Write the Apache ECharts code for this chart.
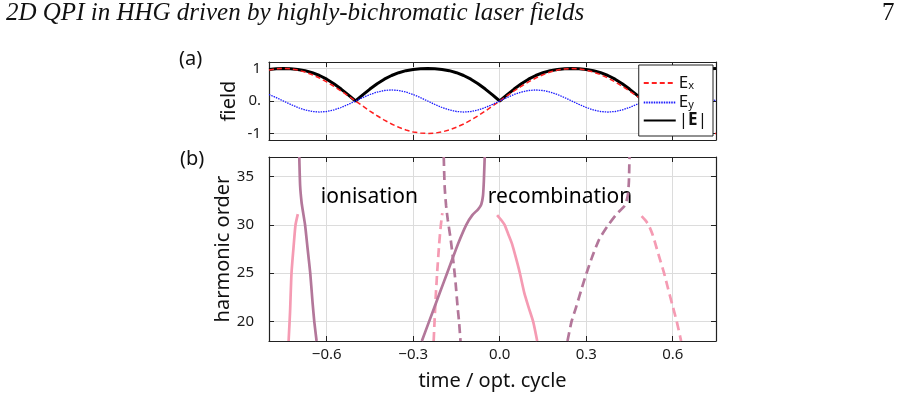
<!DOCTYPE html>
<html lang="en">

<head>
  <meta charset="UTF-8">
  <title>2D QPI in HHG</title>
  <script src="https://cdn.jsdelivr.net/npm/echarts@6.0.0/dist/echarts.min.js"></script>
</head>

<body style="margin:0">
  <div id="main" style="width: 900px;height:396px;"></div>

  <script type="text/javascript">
    // time axis for panel (a), optical cycles
    const fieldTime = [-0.8, -0.775, -0.75, -0.725, -0.7, -0.675, -0.65, -0.625, -0.6, -0.575, -0.55, -0.525,
      -0.5, -0.475, -0.45, -0.425, -0.4, -0.375, -0.35, -0.325, -0.3, -0.275, -0.25, -0.225,
      -0.2, -0.175, -0.15, -0.125, -0.1, -0.075, -0.05, -0.025, 0, 0.025, 0.05, 0.075,
      0.1, 0.125, 0.15, 0.175, 0.2, 0.225, 0.25, 0.275, 0.3, 0.325, 0.35, 0.375,
      0.4, 0.425, 0.45, 0.475, 0.5, 0.525, 0.55, 0.575, 0.6, 0.625, 0.65, 0.675,
      0.7, 0.725, 0.75];
    const fieldEx = [0.951, 0.988, 1, 0.988, 0.951, 0.891, 0.809, 0.707, 0.588, 0.454, 0.309, 0.156,
      0, -0.156, -0.309, -0.454, -0.588, -0.707, -0.809, -0.891, -0.951, -0.988, -1, -0.988,
      -0.951, -0.891, -0.809, -0.707, -0.588, -0.454, -0.309, -0.156, 0, 0.156, 0.309, 0.454,
      0.588, 0.707, 0.809, 0.891, 0.951, 0.988, 1, 0.988, 0.951, 0.891, 0.809, 0.707,
      0.588, 0.454, 0.309, 0.156, 0, -0.156, -0.309, -0.454, -0.588, -0.707, -0.809, -0.891,
      -0.951, -0.988, -1];
    const fieldEy = [0.2, 0.105, 0, -0.105, -0.2, -0.275, -0.323, -0.34, -0.323, -0.275, -0.2, -0.105,
      0, 0.105, 0.2, 0.275, 0.323, 0.34, 0.323, 0.275, 0.2, 0.105, 0, -0.105,
      -0.2, -0.275, -0.323, -0.34, -0.323, -0.275, -0.2, -0.105, 0, 0.105, 0.2, 0.275,
      0.323, 0.34, 0.323, 0.275, 0.2, 0.105, 0, -0.105, -0.2, -0.275, -0.323, -0.34,
      -0.323, -0.275, -0.2, -0.105, 0, 0.105, 0.2, 0.275, 0.323, 0.34, 0.323, 0.275,
      0.2, 0.105, 0];
    const fieldAbs = [0.972, 0.993, 1, 0.993, 0.972, 0.933, 0.871, 0.785, 0.671, 0.531, 0.368, 0.188,
      0, 0.188, 0.368, 0.531, 0.671, 0.785, 0.871, 0.933, 0.972, 0.993, 1, 0.993,
      0.972, 0.933, 0.871, 0.785, 0.671, 0.531, 0.368, 0.188, 0, 0.188, 0.368, 0.531,
      0.671, 0.785, 0.871, 0.933, 0.972, 0.993, 1, 0.993, 0.972, 0.933, 0.871, 0.785,
      0.671, 0.531, 0.368, 0.188, 0, 0.188, 0.368, 0.531, 0.671, 0.785, 0.871, 0.933,
      0.972, 0.993, 1];

    // panel (b): ionisation / recombination times vs harmonic order
    const ionShortT = [-0.732, -0.727, -0.722, -0.714, -0.708, -0.7];
    const ionShortN = [18, 21, 25, 28, 30, 31.1];
    const ionLongT = [-0.695, -0.692, -0.687, -0.683, -0.675, -0.666, -0.657, -0.649, -0.643, -0.635];
    const ionLongN = [37, 34, 32.3, 31.5, 30, 27.5, 25, 22, 20, 18];
    const ion2ShortT = [-0.229, -0.226, -0.222, -0.217, -0.21, -0.204, -0.199];
    const ion2ShortN = [18, 20, 22.5, 25, 28, 30, 31.2];
    const ion2LongT = [-0.194, -0.191, -0.186, -0.18, -0.17, -0.16, -0.153, -0.146, -0.141, -0.136];
    const ion2LongN = [37, 34, 32, 30.5, 28.5, 26, 24, 21.5, 20, 18];
    const recLongT = [-0.27, -0.245, -0.22, -0.195, -0.17, -0.145, -0.116, -0.095, -0.075, -0.064, -0.058, -0.055, -0.052];
    const recLongN = [18, 20, 22, 24, 26, 28, 30, 31, 31.6, 32.1, 33, 34.5, 37];
    const recShortT = [-0.009, 0.005, 0.017, 0.03, 0.043, 0.057, 0.07, 0.085, 0.1, 0.116, 0.13];
    const recShortN = [31, 30.5, 30, 29, 28, 26.5, 25, 23, 21.5, 20, 18];
    const rec2LongT = [0.235, 0.249, 0.265, 0.283, 0.301, 0.322, 0.345, 0.377, 0.405, 0.434, 0.444, 0.448, 0.45];
    const rec2LongN = [18, 20, 21.5, 23.3, 25, 26.8, 28.5, 30, 31.1, 32, 33, 34.5, 37];
    const rec2ShortT = [0.492, 0.504, 0.516, 0.53, 0.545, 0.558, 0.57, 0.583, 0.598, 0.614, 0.629];
    const rec2ShortN = [30.9, 30.5, 30, 29, 27.5, 26.2, 25, 23.5, 21.8, 20, 18];

    // tick labels
    const timeTicks = [-0.6, -0.3, 0, 0.3, 0.6];
    const fieldTicks = [-1, 0, 1];
    const orderTicks = [20, 25, 30, 35];

    const zip = (xs, ys) => xs.map((x, i) => [x, ys[i]]);

    const pink = '#f59bb3';
    const mauve = '#b3779a';
    const font = 'Noto Sans';

    let myChart = echarts.init(document.getElementById('main'));

    const gridLine = { show: true, lineStyle: { color: '#dcdcdc', width: 1 } };
    const frame = { show: true, onZero: false, lineStyle: { color: '#222', width: 1.2 } };

    function xAx(grid, pos, labels) {
      return {
        type: 'value', gridIndex: grid, position: pos, min: -0.8, max: 0.75,
        axisLine: frame,
        axisTick: { show: true, inside: true, length: 5, customValues: timeTicks, lineStyle: { color: '#222' } },
        axisLabel: {
          show: labels, customValues: timeTicks, margin: 6, color: '#1a1a1a', fontFamily: font, fontSize: 15,
          formatter: v => (v < 0 ? '\u2212' : '') + Math.abs(v).toFixed(1)
        },
        splitLine: pos === 'bottom' ? gridLine : { show: false }
      };
    }

    const options = {
      animation: false,
      graphic: [
        { type: 'text', left: 6, top: 1, style: { text: '2D QPI in HHG driven by highly-bichromatic laser fields', font: 'italic 25px "Liberation Serif"', fill: '#111' } },
        { type: 'text', left: 882, top: 1, style: { text: '7', font: '25px "Liberation Serif"', fill: '#111' } },
        { type: 'text', left: 179, top: 49, style: { text: '(a)', font: '20px "Noto Sans"', fill: '#111' } },
        { type: 'text', left: 180, top: 149, style: { text: '(b)', font: '20px "Noto Sans"', fill: '#111' } }
      ],
      legend: {
        data: ['Ex', 'Ey', 'Eabs'],
        orient: 'vertical',
        right: 187, top: 65,
        padding: [8, 6, 7, 4],
        itemWidth: 32, itemHeight: 1, itemGap: 1,
        itemStyle: { opacity: 0 },
        backgroundColor: '#fff', borderColor: '#222', borderWidth: 1, borderRadius: 0,
        formatter: name => name === 'Ex' ? '{a|E}{s|x}' : name === 'Ey' ? '{a|E}{s|y}' : '{a||}{b|E}{a||}',
        textStyle: {
          color: '#111', fontFamily: font, fontSize: 16, padding: [0, 0, 0, -2],
          rich: {
            a: { fontFamily: font, fontSize: 17, lineHeight: 16, color: '#111' },
            b: { fontFamily: font, fontSize: 17, lineHeight: 16, fontWeight: 'bold', color: '#111' },
            s: { fontFamily: font, fontSize: 11, lineHeight: 16, verticalAlign: 'bottom', padding: [7, 0, 0, 0], color: '#111' }
          }
        }
      },
      grid: [
        { left: 269, right: 184, top: 62, height: 78 },
        { left: 269, right: 184, top: 157, height: 184 }
      ],
      xAxis: [
        xAx(0, 'bottom', false),
        xAx(0, 'top', false),
        Object.assign(xAx(1, 'bottom', true), {
          name: 'time / opt. cycle', nameLocation: 'middle', nameGap: 30,
          nameTextStyle: { fontFamily: font, fontSize: 20, color: '#111' }
        }),
        xAx(1, 'top', false)
      ],
      yAxis: [
        {
          type: 'value', gridIndex: 0, position: 'left', min: -1.2, max: 1.2,
          axisLine: frame,
          axisTick: { show: true, inside: true, length: 5, customValues: fieldTicks, lineStyle: { color: '#222' } },
          axisLabel: { customValues: fieldTicks, margin: 8, color: '#1a1a1a', fontFamily: font, fontSize: 15, formatter: v => v === 0 ? '0.' : String(v) },
          splitLine: gridLine,
          name: 'field', nameLocation: 'middle', nameGap: 30,
          nameTextStyle: { fontFamily: font, fontSize: 20, color: '#111' }
        },
        {
          type: 'value', gridIndex: 0, position: 'right', min: -1.2, max: 1.2,
          axisLine: frame,
          axisTick: { show: true, inside: true, length: 5, customValues: fieldTicks, lineStyle: { color: '#222' } },
          axisLabel: { show: false }, splitLine: { show: false }
        },
        {
          type: 'value', gridIndex: 1, position: 'left', min: 18, max: 37,
          axisLine: frame,
          axisTick: { show: true, inside: true, length: 5, customValues: orderTicks, lineStyle: { color: '#222' } },
          axisLabel: { customValues: orderTicks, margin: 15, color: '#1a1a1a', fontFamily: font, fontSize: 15 },
          splitLine: gridLine,
          name: 'harmonic order', nameLocation: 'middle', nameGap: 30,
          nameTextStyle: { fontFamily: font, fontSize: 20, color: '#111' }
        },
        {
          type: 'value', gridIndex: 1, position: 'right', min: 18, max: 37,
          axisLine: frame,
          axisTick: { show: true, inside: true, length: 5, customValues: orderTicks, lineStyle: { color: '#222' } },
          axisLabel: { show: false }, splitLine: { show: false }
        }
      ],
      series: [
        {
          name: 'Ex', type: 'line', xAxisIndex: 0, yAxisIndex: 0, showSymbol: false, symbol: 'none',
          data: zip(fieldTime, fieldEx), color: '#ff2020',
          lineStyle: { color: '#ff2020', width: 1.5, type: [5, 3] }, z: 3
        },
        {
          name: 'Ey', type: 'line', xAxisIndex: 0, yAxisIndex: 0, showSymbol: false, symbol: 'none',
          data: zip(fieldTime, fieldEy), color: '#1a1aff',
          lineStyle: { color: '#1a1aff', width: 1.3, type: [1.5, 1] }, z: 3
        },
        {
          name: 'Eabs', type: 'line', xAxisIndex: 0, yAxisIndex: 0, showSymbol: false, symbol: 'none',
          data: zip(fieldTime, fieldAbs), color: '#000',
          lineStyle: { color: '#000', width: 3 }, z: 2
        },
        ...[
          [ionShortT, ionShortN, pink, 'solid'],
          [ionLongT, ionLongN, mauve, 'solid'],
          [ion2ShortT, ion2ShortN, pink, [9, 5]],
          [ion2LongT, ion2LongN, mauve, [9, 5]],
          [recLongT, recLongN, mauve, 'solid'],
          [recShortT, recShortN, pink, 'solid'],
          [rec2LongT, rec2LongN, mauve, [9, 5]],
          [rec2ShortT, rec2ShortN, pink, [9, 5]]
        ].map(([t, n, c, ty]) => ({
          type: 'line', xAxisIndex: 2, yAxisIndex: 2, symbol: 'none', smooth: 0.2,
          data: zip(t, n), lineStyle: { color: c, width: 2.7, type: ty }
        })),
        {
          type: 'scatter', xAxisIndex: 2, yAxisIndex: 2, symbolSize: 0,
          data: [[-0.452, 32.9, 'ionisation'], [0.209, 32.9, 'recombination']],
          label: {
            show: true, position: 'inside', formatter: p => p.data[2],
            fontFamily: font, fontSize: 21, color: '#000',
            textBorderWidth: 0, textBorderColor: 'transparent', opacity: 1
          }
        }
      ]
    };

    myChart.setOption(options);
  </script>
</body>

</html>
